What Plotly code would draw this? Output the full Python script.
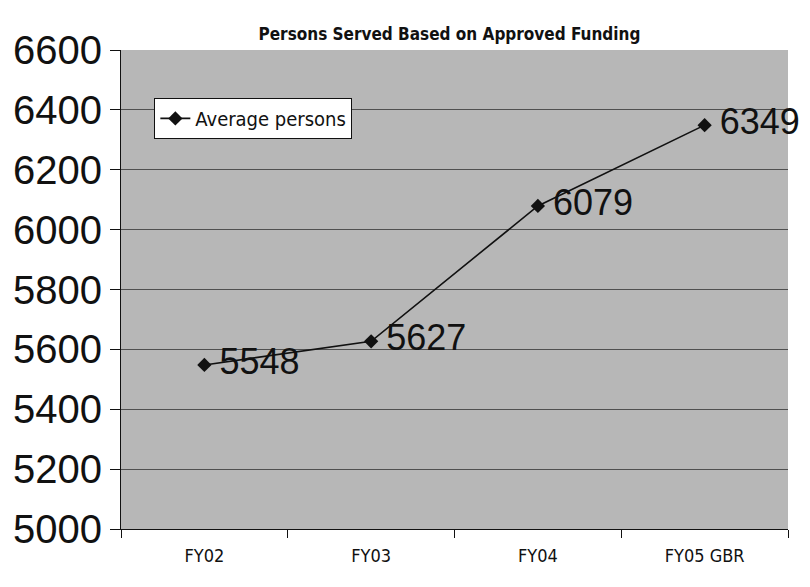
import plotly.graph_objects as go

categories = ["FY02", "FY03", "FY04", "FY05 GBR"]
values = [5548, 5627, 6079, 6349]
labels = ["5548", "5627", "6079", "6349"]
y_ticks = [5000, 5200, 5400, 5600, 5800, 6000, 6200, 6400, 6600]

FONT = "DejaVu Sans Condensed, Liberation Sans Narrow, Liberation Sans, Arial, sans-serif"
FONT2 = "Liberation Sans, Arial, sans-serif"

fig = go.Figure()
fig.add_trace(go.Scatter(
    x=categories, y=values, mode="lines+markers+text",
    name="Average persons",
    text=["\u2009" + t for t in labels], textposition="middle right",
    textfont=dict(family=FONT2, size=36, color="#111"),
    line=dict(color="#111", width=1.6),
    marker=dict(symbol="diamond", size=11, color="#111"),
    cliponaxis=False,
))

fig.update_layout(
    width=810, height=587,
    margin=dict(l=113, r=30, t=42, b=66),
    paper_bgcolor="white",
    plot_bgcolor="#b7b7b7",
    title=dict(text="<b>Persons Served Based on Approved Funding</b>",
               x=0.545, xanchor="center", y=0.955, yanchor="middle",
               font=dict(family=FONT, size=17, color="#111")),
    showlegend=True,
    legend=dict(x=0.05, y=0.9, xanchor="left", yanchor="top",
                bgcolor="white", bordercolor="#111", borderwidth=1,
                font=dict(family=FONT, size=20, color="#111")),
    xaxis=dict(type="category", tickson="boundaries", ticks="outside",
               ticklen=8, tickcolor="#111", showgrid=False, automargin=False,
               showline=True, linecolor="#111", linewidth=1,
               ticklabelstandoff=10,
               tickfont=dict(family=FONT, size=18, color="#111"),
               range=[-0.5, 3.5]),
    yaxis=dict(range=[5000, 6600], tickvals=y_ticks, ticks="outside",
               ticklen=10, tickcolor="#111", automargin=False,
               showgrid=True, gridcolor="#505050", gridwidth=1,
               showline=True, linecolor="#111", linewidth=1, mirror=False,
               tickfont=dict(family=FONT2, size=40, color="#111")),
)
fig.write_html("out.html")
